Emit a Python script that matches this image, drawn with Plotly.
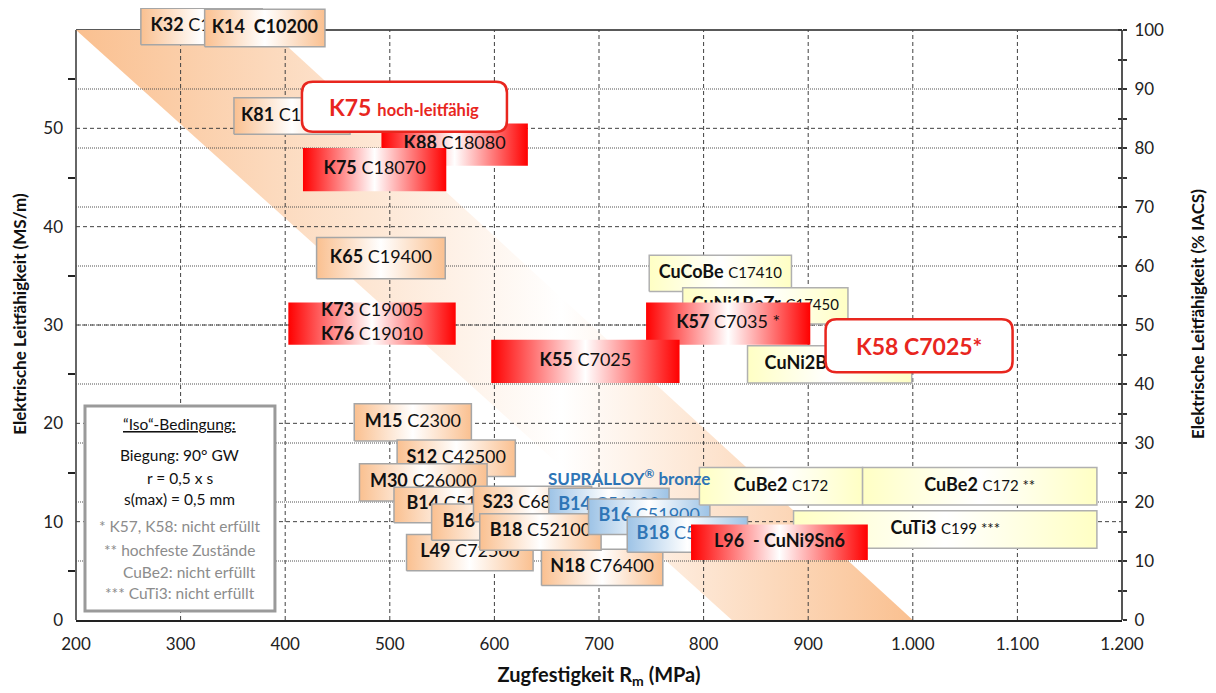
import plotly.graph_objects as go

# ---------------- data ----------------
# alloy name (bold part), standard / code (normal part), family
alloy = ["K32", "K14  C10200", "K81", "K88", "K75", "K65", "K73|K76",
         "CuCoBe", "CuNi1BeZr", "K57", "K55", "CuNi2Be",
         "M15", "S12", "M30", "B14", "L49", "B16", "S23", "N18",
         "B14", "B18", "B16", "B18",
         "CuBe2", "CuBe2", "CuTi3", "L96  - CuNi9Sn6"]
code = ["C15100", "", "C14415", "C18080", "C18070", "C19400", "C19005|C19010",
        "C17410", "C17450", "C7035 *", "C7025", "C17510",
        "C2300", "C42500", "C26000", "C51100", "C72500", "C51900", "C68800", "C76400",
        "C51100", "C52100", "C51900", "C52100",
        "C172", "C172 **", "C199 ***", ""]
family = ["std", "std", "std", "hc", "hc", "std", "hc",
          "comp", "comp", "hc", "hc", "comp",
          "std", "std", "std", "std", "std", "std", "std", "std",
          "supra", "std", "supra", "supra",
          "comp", "comp", "comp", "hc"]
# tensile strength range Rm (MPa)
rm_min = [262, 323, 351, 492, 417, 430, 403,
          748, 780, 745, 597, 842,
          466, 507, 471, 504, 516, 540, 580, 645,
          652, 586, 690, 727,
          796, 952, 886, 788]
rm_max = [378, 438, 462, 632, 554, 553, 563,
          884, 938, 902, 777, 999,
          578, 620, 593, 625, 637, 658, 693, 761,
          767, 702, 806, 842,
          952, 1176, 1176, 957]
# electrical conductivity range (MS/m)
ms_min = [58.5, 58.3, 49.4, 46.2, 43.6, 34.7, 28.0,
          33.4, 30.1, 28.0, 24.1, 24.1,
          18.2, 14.6, 12.1, 9.9, 5.0, 8.1, 10.0, 3.5,
          9.8, 7.1, 8.7, 6.9,
          11.7, 11.7, 7.3, 6.1]
ms_max = [62.2, 62.1, 53.1, 50.5, 48.0, 38.9, 32.3,
          37.1, 33.8, 32.3, 28.5, 27.9,
          22.0, 18.3, 15.9, 13.5, 8.7, 11.8, 13.6, 7.2,
          13.4, 10.8, 12.3, 10.5,
          15.5, 15.5, 11.1, 9.7]

# "iso" band (strength / conductivity corner points)
band_rm = [200, 385, 1000, 827]
band_ms = [60, 60, 0, 0]

x_ticks = [200, 300, 400, 500, 600, 700, 800, 900, 1000, 1100, 1200]
x_ticktext = ["200", "300", "400", "500", "600", "700", "800", "900", "1.000", "1.100", "1.200"]
ms_ticks = [0, 10, 20, 30, 40, 50]
ms_minor = [5, 15, 25, 35, 45, 55]
iacs_ticks = [0, 10, 20, 30, 40, 50, 60, 70, 80, 90, 100]
iacs_minor = [5, 15, 25, 35, 45, 55, 65, 75, 85, 95]
MS_TOP = 60
IACS_TOP = 100

# callouts (text, Rm, MS/m)
callouts = [("K75", "hoch-leitfähig", 514, 52.2), ("K58 C7025*", "", 1006, 27.9)]
supralloy_label = ("SUPRALLOY<sup>®</sup> bronze", 729, 14.5)

# ---------------- style ----------------
FONT = "Lato"
W, H = 1216, 693
ML, MR, MT, MB = 68, 102, 0, 81
TOP_GAP = 22  # px between figure top and the chart's top line
plot_h = H - MT - MB
y_top = MS_TOP * plot_h / (plot_h - TOP_GAP)
y2_top = IACS_TOP * y_top / MS_TOP

FAM_COLOR = {"std": "#FAC090", "hc": "#FF0000", "supra": "#9DC3E6", "comp": "#FFFFC4"}
FAM_BORDER = {"std": "#A6A6A6", "hc": None, "supra": "#A6A6A6", "comp": "#B0B0B0"}
FAM_TEXT = {"std": "#111111", "hc": "#111111", "supra": "#2E75B6", "comp": "#111111"}
ORANGE = "#FAC090"
RED = "#E8261E"

fig = go.Figure()

# band
fig.add_trace(go.Scatter(
    x=band_rm + [band_rm[0]], y=band_ms + [band_ms[0]], mode="none", fill="toself",
    fillgradient=dict(type="horizontal",
                      colorscale=[[0, ORANGE], [0.58, "#FFFFFF"], [1, ORANGE]]),
    hoverinfo="skip", showlegend=False))

# grid lines (traces so they sit above the band but below the labels)
def vlines(vals):
    xs, ys = [], []
    for v in vals:
        xs += [v, v, None]
        ys += [0, MS_TOP, None]
    return xs, ys

def hlines(vals):
    xs, ys = [], []
    for v in vals:
        xs += [x_ticks[0], x_ticks[-1], None]
        ys += [v, v, None]
    return xs, ys

gx, gy = vlines(x_ticks[1:-1])
fig.add_trace(go.Scatter(x=gx, y=gy, mode="lines", line=dict(color="#404040", width=1, dash="4px,3px"),
                         hoverinfo="skip", showlegend=False))
gx, gy = hlines([t * MS_TOP / IACS_TOP for t in iacs_ticks[1:-1]])
fig.add_trace(go.Scatter(x=gx, y=gy, mode="lines", line=dict(color="#505050", width=1, dash="1px,1px"),
                         hoverinfo="skip", showlegend=False))
gx, gy = hlines(ms_ticks[1:])
fig.add_trace(go.Scatter(x=gx, y=gy, mode="lines", line=dict(color="#404040", width=1, dash="4px,3px"),
                         hoverinfo="skip", showlegend=False))

# alloy boxes
for a, c, f, x0, x1, y0, y1 in zip(alloy, code, family, rm_min, rm_max, ms_min, ms_max):
    col = FAM_COLOR[f]
    border = FAM_BORDER[f]
    fig.add_trace(go.Scatter(
        x=[x0, x1, x1, x0, x0], y=[y0, y0, y1, y1, y0],
        mode="lines" if border else "none",
        line=dict(color=border or col, width=1.5),
        fill="toself",
        fillgradient=dict(type="horizontal", colorscale=[[0, col], [0.5, "#FFFFFF"], [1, col]]),
        hoverinfo="skip", showlegend=False))
    parts = []
    for an, cn in zip(a.split("|"), c.split("|")):
        if f == "comp":
            cn_txt = "<span style='font-size:15px'>%s</span>" % cn
        else:
            cn_txt = cn
        parts.append("<b>%s</b> %s" % (an, cn_txt) if cn else "<b>%s</b>" % an)
    fig.add_trace(go.Scatter(
        x=[(x0 + x1) / 2], y=[(y0 + y1) / 2], mode="text", text=["<br>".join(parts)],
        textposition="middle center",
        textfont=dict(family=FONT, size=18, color=FAM_TEXT[f]),
        hoverinfo="skip", showlegend=False))

# dummy traces for the right-hand axes
for ax in ["y2", "y3"]:
    fig.add_trace(go.Scatter(x=[None], y=[None], yaxis=ax, mode="markers",
                             hoverinfo="skip", showlegend=False))

shapes = []
annotations = []
# frame lines
shapes.append(dict(type="line", xref="paper", yref="y", x0=0, x1=0, y0=0, y1=MS_TOP,
                   line=dict(color="#333333", width=1.5), layer="below"))
shapes.append(dict(type="line", xref="paper", yref="y", x0=1, x1=1, y0=0, y1=MS_TOP,
                   line=dict(color="#555555", width=2), layer="below"))
shapes.append(dict(type="line", xref="paper", yref="y", x0=0, x1=1, y0=MS_TOP, y1=MS_TOP,
                   line=dict(color="#222222", width=1.5), layer="below"))

# callouts
def rrect(w, h, r):
    a, b = w / 2, h / 2
    return ("M %g,%g L %g,%g Q %g,%g %g,%g L %g,%g Q %g,%g %g,%g L %g,%g Q %g,%g %g,%g "
            "L %g,%g Q %g,%g %g,%g Z" % (
                -a + r, -b, a - r, -b, a, -b, a, -b + r, a, b - r, a, b, a - r, b,
                -a + r, b, -a, b, -a, b - r, -a, -b + r, -a, -b, -a + r, -b))

callout_size = [(205, 50), (187, 53)]
for (t1, t2, cx, cy), (w, h) in zip(callouts, callout_size):
    shapes.append(dict(type="path", xref="x", yref="y", xsizemode="pixel", ysizemode="pixel",
                       xanchor=cx, yanchor=cy, path=rrect(w, h, 11),
                       fillcolor="white", line=dict(color=RED, width=2.5), layer="above"))
    if t2:
        txt = "<b>%s</b> <b><span style='font-size:16.5px'>%s</span></b>" % (t1, t2)
        size = 23
    else:
        txt = "<b>%s</b>" % t1
        size = 23
    annotations.append(dict(x=cx, y=cy, xref="x", yref="y", text=txt, showarrow=False,
                            font=dict(family=FONT, size=size, color=RED)))

annotations.append(dict(x=supralloy_label[1], y=supralloy_label[2], xref="x", yref="y",
                        text="<b>%s</b>" % supralloy_label[0], showarrow=False,
                        font=dict(family=FONT, size=17, color="#2E75B6")))

# "Iso" condition box
shapes.append(dict(type="rect", xref="paper", yref="paper", x0=0.0086, x1=0.1902, y0=0.0147, y1=0.3497,
                   fillcolor="white", line=dict(color="#9A9A9A", width=3), layer="above"))
iso_lines = [
    ("<u>“Iso“-Bedingung:</u>", 0.3203, "#111111", 0.0994),
    ("Biegung: 90° GW", 0.2696, "#111111", 0.0994),
    ("r = 0,5 x s", 0.2320, "#111111", 0.0994),
    ("s(max) = 0,5 mm", 0.1977, "#111111", 0.0994),
    ("* K57, K58: nicht erfüllt", 0.1536, "#8C8C8C", 0.0994),
    ("** hochfeste Zustände", 0.1144, "#8C8C8C", 0.0994),
    ("CuBe2: nicht erfüllt", 0.0784, "#8C8C8C", 0.1085),
    ("*** CuTi3: nicht erfüllt", 0.0441, "#8C8C8C", 0.0994),
]
for t, yy, colr, xx in iso_lines:
    annotations.append(dict(x=xx, y=yy, xref="paper", yref="paper", text=t, showarrow=False,
                            xanchor="center", yanchor="middle",
                            font=dict(family=FONT, size=15.5, color=colr)))

tickfont = dict(family=FONT, size=17, color="#222222")
fig.update_layout(
    width=W, height=H, margin=dict(l=ML, r=MR, t=MT, b=MB, autoexpand=False),
    paper_bgcolor="white", plot_bgcolor="white",
    font=dict(family=FONT, color="#111111"),
    showlegend=False,
    xaxis=dict(range=[x_ticks[0], x_ticks[-1]], tickmode="array", tickvals=x_ticks, ticktext=x_ticktext,
               showgrid=False, zeroline=False, showline=True, linecolor="#222222", linewidth=1.5,
               ticks="", ticklabelstandoff=8, tickfont=tickfont, automargin=False,
               title=dict(text="<b>Zugfestigkeit R<sub>m</sub> (MPa)</b>", standoff=15,
                          font=dict(family=FONT, size=20, color="#111111"))),
    yaxis=dict(range=[0, y_top], tickmode="array", tickvals=ms_ticks, showgrid=False, zeroline=False,
               showline=False, ticks="", ticklabelstandoff=12, tickfont=tickfont, automargin=False,
               minor=dict(tickmode="array", tickvals=ms_minor, ticks="outside", ticklen=7,
                          tickwidth=1.5, tickcolor="#222222", showgrid=False),
               title=dict(text="<b>Elektrische Leitfähigkeit (MS/m)</b>", standoff=12,
                          font=dict(family=FONT, size=17, color="#111111"))),
    yaxis2=dict(range=[0, y2_top], overlaying="y", side="right", tickmode="array", tickvals=iacs_ticks,
                showgrid=False, zeroline=False, showline=False, ticks="outside", ticklen=4, tickwidth=1.5,
                tickcolor="#333333", tickfont=tickfont, ticklabelstandoff=4, automargin=False,
                minor=dict(tickmode="array", tickvals=iacs_minor, ticks="outside", ticklen=4,
                           tickwidth=1.5, tickcolor="#333333", showgrid=False),
                title=dict(text="<b>Elektrische Leitfähigkeit (% IACS)</b>", standoff=28,
                           font=dict(family=FONT, size=17, color="#111111"))),
    yaxis3=dict(range=[0, y2_top], overlaying="y", side="right", tickmode="array", tickvals=iacs_ticks,
                showgrid=False, zeroline=False, showline=False, ticks="inside", ticklen=4, tickwidth=1.5,
                tickcolor="#333333", showticklabels=False, automargin=False,
                minor=dict(tickmode="array", tickvals=iacs_minor, ticks="inside", ticklen=4,
                           tickwidth=1.5, tickcolor="#333333", showgrid=False)),
    shapes=shapes, annotations=annotations,
)

fig.write_html("out.html")
